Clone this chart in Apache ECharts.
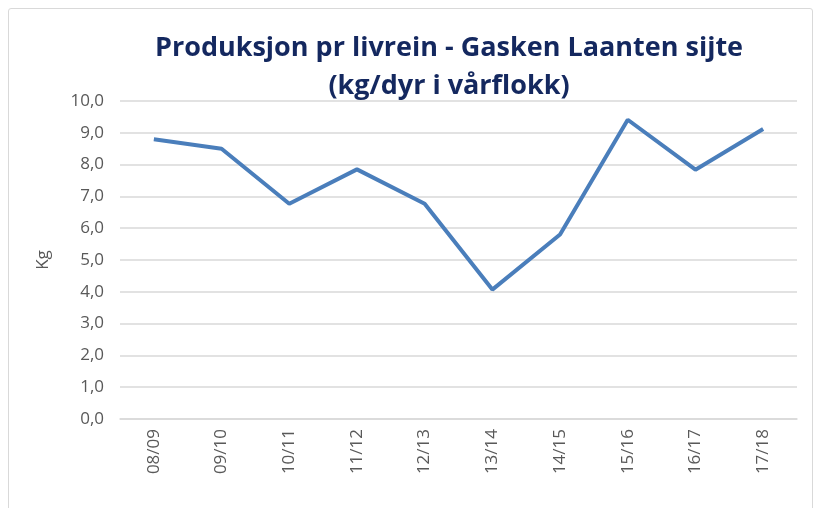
<!DOCTYPE html>
<html>
<head>
<meta charset="utf-8">
<script src="https://cdn.jsdelivr.net/npm/echarts@6/dist/echarts.min.js"></script>
<style>
  html, body { margin: 0; padding: 0; background: #fff; }
  #frame { position: absolute; left: 8px; top: 8px; width: 803px; height: 520px; border: 1px solid #d9d9d9; border-radius: 3px; }
  #chart { width: 824px; height: 508px; position: absolute; left: 0; top: 0; }
</style>
</head>
<body>
<div id="frame"></div>
<div id="chart"></div>
<script>
// sesonger
const seasons = ['08/09', '09/10', '10/11', '11/12', '12/13', '13/14', '14/15', '15/16', '16/17', '17/18']
// kg per dyr i vårflokk
const kgPerAnimal = [8.8, 8.5, 6.77, 7.85, 6.77, 4.07, 5.8, 9.41, 7.84, 9.12]

const titleLines = ['Produksjon pr livrein - Gasken Laanten sijte', '(kg/dyr i vårflokk)']

const chart = echarts.init(document.getElementById('chart'))
const option = {
  animation: false,
  title: {
    text: titleLines.join('\n'),
    left: 444,
    textAlign: 'center',
    top: 24,
    textStyle: {
      fontFamily: 'Open Sans',
      fontWeight: 'bold',
      fontSize: 27,
      lineHeight: 38,
      color: '#14285f'
    }
  },
  grid: {
    left: 120,
    right: 27,
    top: 101,
    bottom: 89
  },
  xAxis: {
    type: 'category',
    data: seasons,
    axisLine: { lineStyle: { color: '#d9d9d9', width: 1.5 } },
    axisTick: { show: false },
    axisLabel: {
      rotate: 90,
      margin: 10,
      color: '#595959',
      fontFamily: 'Open Sans',
      fontSize: 17,
      interval: 0
    }
  },
  yAxis: {
    type: 'value',
    min: 0,
    max: 10,
    interval: 1,
    name: 'Kg',
    nameLocation: 'middle',
    nameGap: 68,
    nameRotate: 90,
    nameTextStyle: { color: '#595959', fontFamily: 'Open Sans', fontSize: 17 },
    axisLine: { show: false },
    axisTick: { show: false },
    splitLine: { lineStyle: { color: '#d9d9d9', width: 1.5 } },
    axisLabel: {
      margin: 16,
      color: '#595959',
      fontFamily: 'Open Sans',
      fontSize: 17,
      formatter: v => v.toFixed(1).replace('.', ',')
    }
  },
  series: [
    {
      type: 'line',
      data: kgPerAnimal,
      symbol: 'none',
      lineStyle: { color: '#4a7ebb', width: 4 }
    }
  ]
}
chart.setOption(option)
</script>
</body>
</html>
